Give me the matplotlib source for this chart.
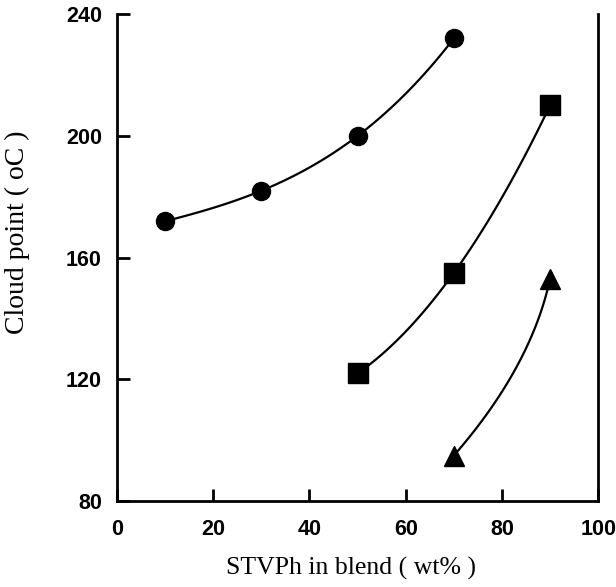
import matplotlib
matplotlib.use("Agg")
import matplotlib.pyplot as plt
import numpy as np

# Data
circle_x = [10, 30, 50, 70]
circle_y = [172, 182, 200, 232]
square_x = [50, 70, 90]
square_y = [122, 155, 210]
tri_x = [70, 90]
tri_y = [95, 153]

x_ticks = [0, 20, 40, 60, 80, 100]
y_ticks = [80, 120, 160, 200, 240]

fig = plt.figure(figsize=(6.16, 5.87), dpi=100)
ax = fig.add_axes([0.19, 0.146, 0.781, 0.830])

# smooth curves through the points
def smooth(xs, ys, deg):
    c = np.polyfit(xs, ys, deg)
    xx = np.linspace(xs[0], xs[-1], 100)
    return xx, np.polyval(c, xx)

xx, yy = smooth(circle_x, circle_y, 3)
ax.plot(xx, yy, color="black", lw=1.6)
xx, yy = smooth(square_x, square_y, 2)
ax.plot(xx, yy, color="black", lw=1.6)
# two points only: gently bent curve between them
t = np.linspace(0, 1, 100)
s = t + 0.6 * t * (1 - t)
xx = tri_x[0] + (tri_x[1] - tri_x[0]) * s
yy = tri_y[0] + (tri_y[1] - tri_y[0]) * t
ax.plot(xx, yy, color="black", lw=1.6)

ax.plot(circle_x, circle_y, "o", color="black", ms=13)
ax.plot(square_x, square_y, "s", color="black", ms=14)
ax.plot(tri_x, tri_y, "^", color="black", ms=14)

ax.set_xlim(0, 100)
ax.set_ylim(80, 240)
ax.set_xticks(x_ticks)
ax.set_yticks(y_ticks)
ax.spines["top"].set_visible(False)
for sp in ["left", "bottom", "right"]:
    ax.spines[sp].set_linewidth(2.0)
ax.tick_params(direction="in", length=9, width=2.0)
ax.tick_params(axis="x", pad=13)
ax.tick_params(axis="y", pad=11)
for lab in ax.get_xticklabels() + ax.get_yticklabels():
    lab.set_family("Liberation Sans")
    lab.set_fontweight("bold")
    lab.set_fontsize(15.5)

ax.set_xlabel("STVPh in blend ( wt% )", family="Liberation Serif", fontsize=18.5)
ax.set_ylabel("Cloud point ( oC )", family="Liberation Serif", fontsize=20)
ax.xaxis.set_label_coords(0.486, -0.115)
ax.yaxis.set_label_coords(-0.18, 0.552)

fig.savefig("out.png", dpi=100)
